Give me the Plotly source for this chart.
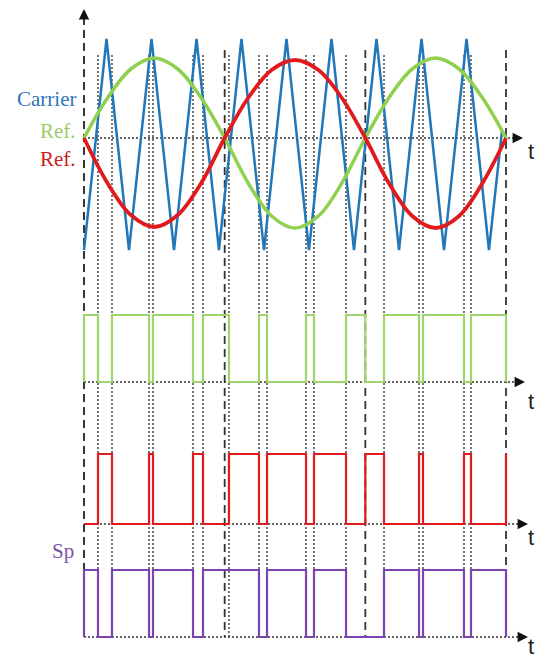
import plotly.graph_objects as go

W, H = 535, 659

# ---------------- data (time in electrical degrees, wt) ----------------
carrier_t = [0, 28.8, 57.6, 86.4, 115.2, 144.0, 172.7, 201.5, 230.3, 259.1,
             287.9, 316.7, 345.5, 374.3, 403.1, 431.9, 460.7, 489.5, 518.2, 535]
carrier_v = [-1.12, 0.99, -1.12, 0.99, -1.12, 0.99, -1.12, 0.99, -1.12, 0.99,
             -1.12, 0.99, -1.12, 0.99, -1.12, 0.99, -1.12, 0.99, -1.12, 0.08]

ref_t = [0, 30, 60, 90, 120, 150, 180, 210, 240, 270, 300, 330, 360,
         390, 420, 450, 480, 510, 540]
green_ref = [0, 0.40, 0.69, 0.80, 0.69, 0.40, 0, -0.45, -0.78, -0.90, -0.78, -0.45, 0,
             0.40, 0.69, 0.80, 0.69, 0.40, 0]
red_ref = [0, -0.45, -0.77, -0.89, -0.77, -0.45, 0, 0.40, 0.68, 0.78, 0.68, 0.40, 0,
           -0.45, -0.78, -0.90, -0.78, -0.45, 0]

green_pwm_t = [0, 0, 17.9, 35.8, 83.2, 88.3, 139.5, 152.3, 185.5, 223.9, 234.2,
               284.1, 294.3, 335.3, 360.0, 383.9, 428.7, 433.8, 486.2, 495.2, 540]
green_pwm_v = [0, 1, 0, 1, 0, 1, 0, 1, 0, 1, 0, 1, 0, 1, 0, 1, 0, 1, 0, 1, 0]

red_pwm_t = [0, 17.9, 35.8, 83.2, 88.3, 139.5, 152.3, 185.5, 223.9, 234.2,
             284.1, 294.3, 335.3, 360.0, 383.9, 428.7, 433.8, 486.2, 495.2, 540]
red_pwm_v = [0, 1, 0, 1, 0, 1, 0, 1, 0, 1, 0, 1, 0, 1, 0, 1, 0, 1, 0, 1]

sp_t = [0, 0, 17.9, 35.8, 83.2, 88.3, 139.5, 152.3, 223.9, 234.2,
        284.1, 294.3, 335.3, 383.9, 428.7, 433.8, 486.2, 495.2, 540]
sp_v = [0, 1, 0, 1, 0, 1, 0, 1, 0, 1, 0, 1, 0, 1, 0, 1, 0, 1, 0]

switch_t = [17.9, 35.8, 83.2, 88.3, 139.5, 152.3, 185.5, 223.9, 234.2,
            284.1, 294.3, 335.3, 383.9, 428.7, 433.8, 486.2, 495.2]
half_t = [180, 360, 540]

labels_left = ["Carrier", "Ref.", "Ref.", "Sp"]
axis_label = "t"

# ---------------- layout helpers ----------------
X0_PX, X1_PX, T_END = 84, 506, 540
PX_PER = (X1_PX - X0_PX) / T_END


def px_to_t(px):
    return (px - X0_PX) / PX_PER


def yrange(p0, p1):
    # value 0 at pixel p0, value 1 at pixel p1 (pixels from the top)
    s = p0 - p1
    return [-(H - p0) / s, p0 / s]


def py(px):
    return 1 - px / H


C_BLUE = "#2277B9"
C_GREEN = "#8FD14F"
C_GREEN_P = "#9FD56A"
C_RED = "#E01B1D"
C_PURPLE = "#7B44B0"

fig = go.Figure()
fig.add_trace(go.Scatter(x=carrier_t, y=carrier_v, mode="lines",
                         line=dict(color=C_BLUE, width=2.5), yaxis="y"))
fig.add_trace(go.Scatter(x=ref_t, y=green_ref, mode="lines",
                         line=dict(color=C_GREEN, width=3.5, shape="spline"), yaxis="y"))
fig.add_trace(go.Scatter(x=ref_t, y=red_ref, mode="lines",
                         line=dict(color=C_RED, width=3.8, shape="spline"), yaxis="y"))
fig.add_trace(go.Scatter(x=green_pwm_t, y=green_pwm_v, mode="lines",
                         line=dict(color=C_GREEN_P, width=2.2, shape="hv"), yaxis="y2"))
fig.add_trace(go.Scatter(x=red_pwm_t, y=red_pwm_v, mode="lines",
                         line=dict(color=C_RED, width=2.2, shape="hv"), yaxis="y3"))
fig.add_trace(go.Scatter(x=sp_t, y=sp_v, mode="lines",
                         line=dict(color=C_PURPLE, width=2.2, shape="hv"), yaxis="y4"))

shapes = []
# switching instants: dotted verticals
for t in switch_t:
    shapes.append(dict(type="line", xref="x", yref="paper", x0=t, x1=t,
                       y0=py(55), y1=py(637), layer="below",
                       line=dict(color="#555555", width=1.6, dash="2px,2px")))
# half period markers: dashed
for t in half_t:
    shapes.append(dict(type="line", xref="x", yref="paper", x0=t, x1=t,
                       y0=py(50), y1=py(637), layer="below",
                       line=dict(color="#333333", width=1.8, dash="8px,5px")))
# left vertical axis
shapes.append(dict(type="line", xref="x", yref="paper", x0=0, x1=0,
                   y0=py(17), y1=py(637), layer="below",
                   line=dict(color="#222222", width=1.8, dash="8px,5px")))
# horizontal dotted base lines
tips = [("y", 523), ("y2", 525), ("y3", 528), ("y4", 528)]
for yr, tip in tips:
    shapes.append(dict(type="line", xref="x", yref=yr, x0=0, x1=px_to_t(tip - 4),
                       y0=0, y1=0, layer="below",
                       line=dict(color="#333333", width=1.6, dash="2px,2px")))

annotations = []
for yr, tip in tips:
    annotations.append(dict(x=px_to_t(tip), y=0, xref="x", yref=yr, text="",
                            showarrow=True, ax=-7, ay=0, arrowhead=2,
                            arrowsize=1.3, arrowwidth=1.6, arrowcolor="#111111"))
# vertical arrow
annotations.append(dict(x=0, y=(138 - 9) / 100, xref="x", yref="y", text="",
                        showarrow=True, ax=0, ay=8, arrowhead=2,
                        arrowsize=1.3, arrowwidth=1.6, arrowcolor="#111111"))

# "t" labels
for ypx in [152, 401, 537, 646]:
    annotations.append(dict(x=526 / W, y=py(ypx), xref="paper", yref="paper",
                            text=axis_label, showarrow=False, xanchor="left",
                            yanchor="middle",
                            font=dict(family="Liberation Sans", size=22, color="#222222")))

serif = "Liberation Serif"
left_specs = [(labels_left[0], 99, "#2E75B6"), (labels_left[1], 131, "#9CCB6A"),
              (labels_left[2], 159, "#C81E1E"), (labels_left[3], 551, "#7D55A8")]
for txt, ypx, col in left_specs:
    xr = 78 if txt != "Sp" else 76
    annotations.append(dict(x=xr / W, y=py(ypx), xref="paper", yref="paper",
                            text=txt, showarrow=False, xanchor="right",
                            yanchor="middle",
                            font=dict(family=serif, size=21, color=col)))

hidden = dict(visible=False, showgrid=False, zeroline=False, fixedrange=True)
fig.update_layout(
    width=W, height=H, margin=dict(l=0, r=0, t=0, b=0),
    paper_bgcolor="white", plot_bgcolor="white", showlegend=False,
    xaxis=dict(range=[px_to_t(0), px_to_t(W)], domain=[0, 1], **hidden),
    yaxis=dict(range=[-(H - 138) / 100, 138 / 100], domain=[0, 1], **hidden),
    yaxis2=dict(range=yrange(382, 315), overlaying="y", anchor="x", **hidden),
    yaxis3=dict(range=yrange(524, 454), overlaying="y", anchor="x", **hidden),
    yaxis4=dict(range=yrange(637, 570), overlaying="y", anchor="x", **hidden),
    shapes=shapes, annotations=annotations,
)

fig.write_html("out.html")
